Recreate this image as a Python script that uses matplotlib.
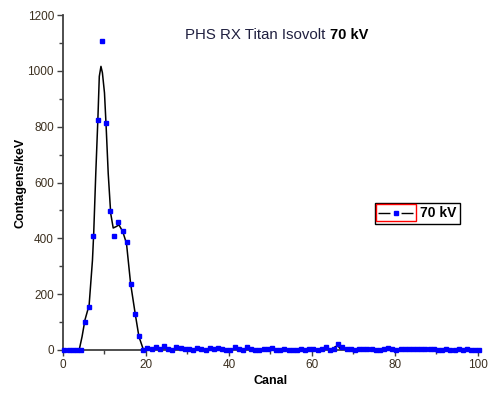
import matplotlib
matplotlib.use('Agg')
import matplotlib.pyplot as plt
import numpy as np
from matplotlib.lines import Line2D
from matplotlib.patches import Rectangle
from matplotlib.ticker import MultipleLocator

plt.rcParams['font.family'] = ['Liberation Sans', 'DejaVu Sans']

# canais medidos (contagens/keV por canal)
canal = [c + 0.35 for c in range(101)]
contagens = [0, 0, 0, 0, 0, 101, 153, 410, 824, 1108,
             812, 499, 410, 458, 428, 386, 237, 128, 51, 0,
             6, 2, 9, 2, 13, 2, 1, 9, 6, 2,
             4, 1, 6, 4, 1, 6, 2, 6, 3, 1,
             1, 12, 2, 1, 9, 3, 1, 1, 4, 3,
             8, 1, 0, 4, 1, 0, 1, 5, 1, 2,
             3, 1, 2, 10, 1, 2, 22, 10, 5, 4,
             1, 5, 5, 5, 2, 1, 1, 3, 6, 3,
             1, 4, 2, 4, 4, 4, 5, 4, 5, 3,
             1, 1, 3, 1, 1, 3, 1, 3, 1, 1,
             1]

# curva ajustada (linha preta)
fit_x = [0, 3.9, 4.6, 5.3, 6.3, 7.1, 7.4, 7.9, 8.4, 8.75, 9.15, 9.5, 10.0,
         10.4, 10.9, 11.5, 12.1, 12.8, 13.5, 14.4, 15.3, 16.3, 17.4, 18.3,
         19.4, 30, 64.8, 65.6, 66.3, 67.0, 100]
fit_y = [0, 0, 48, 108, 161, 321, 417, 632, 824, 980, 1016, 993, 921,
         800, 632, 489, 437, 442, 448, 424, 382, 237, 130, 48,
         0, 0, 0, 12, 14, 0, 0]

titulo = 'PHS RX Titan Isovolt '
serie = '70 kV'
tick_color = '#3c3020'
axis_color = '#404040'

fig = plt.figure(figsize=(4.94, 3.97), dpi=100)
ax = fig.add_axes([0.1275, 0.1184, 0.8401, 0.8438])

ax.plot(fit_x, fit_y, color='black', lw=1.1, zorder=2)
ax.plot(canal, contagens, ls='none', marker='s', ms=3.4, color='#0000ff',
        mec='#0000ff', clip_on=False, zorder=3)

ax.set_xlim(0, 100)
ax.set_ylim(0, 1200)
ax.xaxis.set_major_locator(MultipleLocator(20))
ax.xaxis.set_minor_locator(MultipleLocator(10))
ax.yaxis.set_major_locator(MultipleLocator(200))
ax.yaxis.set_minor_locator(MultipleLocator(100))

for side in ['top', 'right']:
    ax.spines[side].set_visible(False)
for side in ['left', 'bottom']:
    ax.spines[side].set_color(axis_color)
    ax.spines[side].set_linewidth(1.3)

ax.tick_params(which='major', length=4.5, width=1, color=axis_color,
               labelsize=8.5, labelcolor=tick_color, pad=2)
ax.tick_params(which='minor', length=3, width=1, color=axis_color)

ax.set_xlabel('Canal', fontsize=9, fontweight='bold', labelpad=3)
ax.set_ylabel('Contagens/keV', fontsize=9, fontweight='bold', labelpad=1)

# titulo com parte em negrito
t1 = fig.text(185 / 494, 1 - 35 / 397, titulo, fontsize=10.8, color='#202040',
              va='center', ha='left')
fig.canvas.draw()
bb = t1.get_window_extent()
fig.text(bb.x1 / fig.bbox.width, 1 - 35 / 397, serie, fontsize=10.5,
         fontweight='bold', color='black', va='center', ha='left')

# legenda
handle = Line2D([], [], color='black', lw=1, ls=(0, (8.6, 8)), marker='s',
                ms=2.6, mfc='#0000ff', mec='#0000ff')
leg = ax.legend([handle], [serie], loc='center left',
                bbox_to_anchor=(375 / 494, 1 - 213.5 / 397),
                bbox_transform=fig.transFigure, frameon=True, fancybox=False,
                edgecolor='black', framealpha=1, borderpad=0.25,
                borderaxespad=0, handlelength=2.52, handletextpad=0.45,
                prop={'size': 10, 'weight': 'bold'})
leg.get_frame().set_linewidth(1.0)
fig.canvas.draw()
hb = leg.legend_handles[0].get_window_extent()
W, H = fig.bbox.width, fig.bbox.height
fig.patches.append(Rectangle((hb.x0 / W - 0.002, (hb.y0 + hb.height / 2) / H - 0.021),
                             hb.width / W + 0.004, 0.042,
                             transform=fig.transFigure, fill=False,
                             edgecolor='red', lw=1))

fig.savefig('out.png', dpi=100)
